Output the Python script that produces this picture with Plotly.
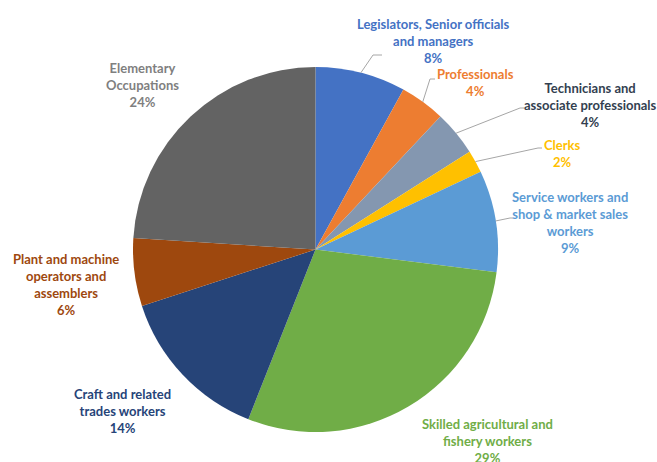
import math
import plotly.graph_objects as go

# Occupational distribution
categories = [
    "Legislators, Senior officials<br>and managers",
    "Professionals",
    "Technicians and<br>associate professionals",
    "Clerks",
    "Service workers and<br>shop & market sales<br>workers",
    "Skilled agricultural and<br>fishery workers",
    "Craft and related<br>trades workers",
    "Plant and machine<br>operators and<br>assemblers",
    "Elementary<br>Occupations",
]
shares = [8, 4, 4, 2, 9, 29, 14, 6, 24]

slice_colors = ["#4472C4", "#ED7D31", "#8497B0", "#FFC000", "#5B9BD5",
                "#70AD47", "#264478", "#9E480E", "#636363"]
label_colors = ["#4472C4", "#ED7D31", "#333F50", "#FFC000", "#5B9BD5",
                "#70AD47", "#264478", "#9E480E", "#7F7F7F"]

W, H = 657, 462
CX, CY, R = 315.5, 249.5, 182.5

# Label block centres (pixels) and leader elbow points (None = no leader)
label_pos = [(433, 41), (475, 83), (590, 105), (562, 153), (570, 222),
             (487, 441), (122, 411), (66, 284), (142, 85)]
elbows = [[(373, 55), (382, 55)], [(430, 79), (435, 79)],
          [(520, 108), (524, 108)], [(538, 148), (542, 148)],
          [(510, 218), (513, 218)], None, None, None, None]


def px(x, y):
    return x / W, 1 - y / H


fig = go.Figure(go.Pie(
    labels=[c.replace("<br>", " ") for c in categories],
    values=shares,
    sort=False,
    direction="clockwise",
    rotation=0,
    marker=dict(colors=slice_colors, line=dict(width=0)),
    textinfo="none",
    hoverinfo="label+percent",
    domain=dict(x=[(CX - R) / W, (CX + R) / W],
                y=[1 - (CY + R) / H, 1 - (CY - R) / H]),
    showlegend=False,
))

total = sum(shares)
cum = 0
shapes = []
annotations = []
for i, v in enumerate(shares):
    mid = (cum + v / 2) / total * 2 * math.pi
    cum += v
    lx, ly = label_pos[i]
    annotations.append(dict(
        x=px(lx, ly)[0], y=px(lx, ly)[1], xref="paper", yref="paper",
        xanchor="center", yanchor="middle", showarrow=False,
        text=f"{categories[i]}<br>{v}%", align="center",
        font=dict(family="Lato", size=13, color=label_colors[i], weight="bold"),
    ))
    if elbows[i]:
        pts = [(CX + R * math.sin(mid), CY - R * math.cos(mid))] + elbows[i]
        path = "M " + " L ".join(f"{px(x, y)[0]},{px(x, y)[1]}" for x, y in pts)
        shapes.append(dict(type="path", path=path, xref="paper", yref="paper",
                           line=dict(color="#A6A6A6", width=1)))

fig.update_layout(
    width=W, height=H,
    margin=dict(l=0, r=0, t=0, b=0),
    paper_bgcolor="white",
    plot_bgcolor="white",
    shapes=shapes,
    annotations=annotations,
)

fig.write_html("out.html")
